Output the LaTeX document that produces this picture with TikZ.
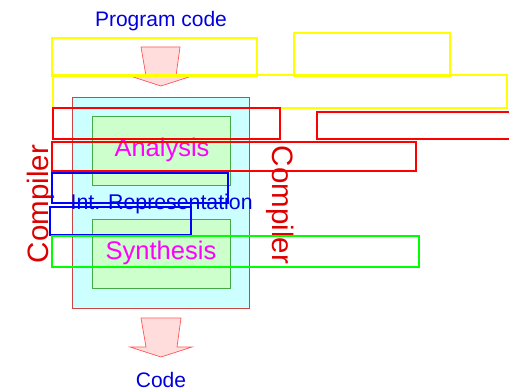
\documentclass[tikz,border=0pt]{standalone}
\usepackage{fontspec}
\setmainfont{Liberation Sans}
\definecolor{txtblue}{HTML}{0000DD}
\definecolor{txtred}{HTML}{DD0000}
\definecolor{txtmag}{HTML}{FF00FF}
\definecolor{cyanfill}{HTML}{CCFFFF}
\definecolor{greenfill}{HTML}{CCFFCC}
\definecolor{greenedge}{HTML}{44AA44}
\definecolor{boxedge}{HTML}{CC4444}
\definecolor{arrowfill}{HTML}{FFDDDD}
\definecolor{arrowedge}{HTML}{FF5555}
\definecolor{yel}{HTML}{FFFF00}
\definecolor{grn}{HTML}{00FF00}
\definecolor{rd}{HTML}{FF0000}
\definecolor{bl}{HTML}{0000FF}
\begin{document}
\begin{tikzpicture}[x=1pt,y=-1pt,
  frame/.style={draw, line width=1.4pt, fill=none},
  fillbox/.style={line width=0.8pt},
  bigarrow/.style={draw=arrowedge, fill=arrowfill, line width=0.7pt, line join=miter},
  lbl/.style={anchor=base, inner sep=0pt}]
\useasboundingbox (0,0) rectangle (509,390);
% main boxes
\filldraw[fillbox, draw=boxedge, fill=cyanfill] (72,97) rectangle (249,308);
\filldraw[fillbox, draw=greenedge, fill=greenfill] (92,116) rectangle (230,185);
\filldraw[fillbox, draw=greenedge, fill=greenfill] (92,219) rectangle (230,288);
% arrows
\draw[bigarrow] (141,47) -- (180,47) -- (176,76) -- (192,76) -- (161,86) -- (130,76) -- (146,76) -- cycle;
\draw[bigarrow] (141,318) -- (181,318) -- (177,347) -- (192,347) -- (161,357) -- (130,347) -- (146,347) -- cycle;
% texts
\node[lbl, text=txtblue, font=\fontsize{21}{24}\selectfont] (prog) at (161,27) {Program code};
\node[lbl, text=txtmag, font=\fontsize{25.5}{28}\selectfont] (ana) at (162,157) {Analysis};
\node[lbl, text=txtblue, font=\fontsize{21.3}{24}\selectfont] (ir) at (161.7,210) {Int. Representation};
\node[lbl, text=txtmag, font=\fontsize{25.5}{28}\selectfont] (syn) at (161,260) {Synthesis};
\node[lbl, text=txtblue, font=\fontsize{21}{24}\selectfont] (code) at (161,387) {Code};
\node[lbl, text=txtred, font=\fontsize{29.5}{32}\selectfont, rotate=90] (compL) at (48,204) {Compiler};
\node[lbl, text=txtred, font=\fontsize{29.5}{32}\selectfont, rotate=-90] (compR) at (272,205) {Compiler};
% outline frames
\draw[frame, draw=yel] (52,38) rectangle (257,76);
\draw[frame, draw=yel] (294,33) rectangle (450,76);
\draw[frame, draw=yel] (53,75) rectangle (507,108);
\draw[frame, draw=rd] (53,108) rectangle (280,139);
\draw[frame, draw=rd] (317,112) rectangle (512,139);
\draw[frame, draw=rd] (52,142) rectangle (416,171);
\draw[frame, draw=bl] (52,173) rectangle (228,203);
\draw[frame, draw=bl] (50,207) rectangle (191,235);
\draw[frame, draw=grn] (52,236) rectangle (419,267);
\end{tikzpicture}
\end{document}
